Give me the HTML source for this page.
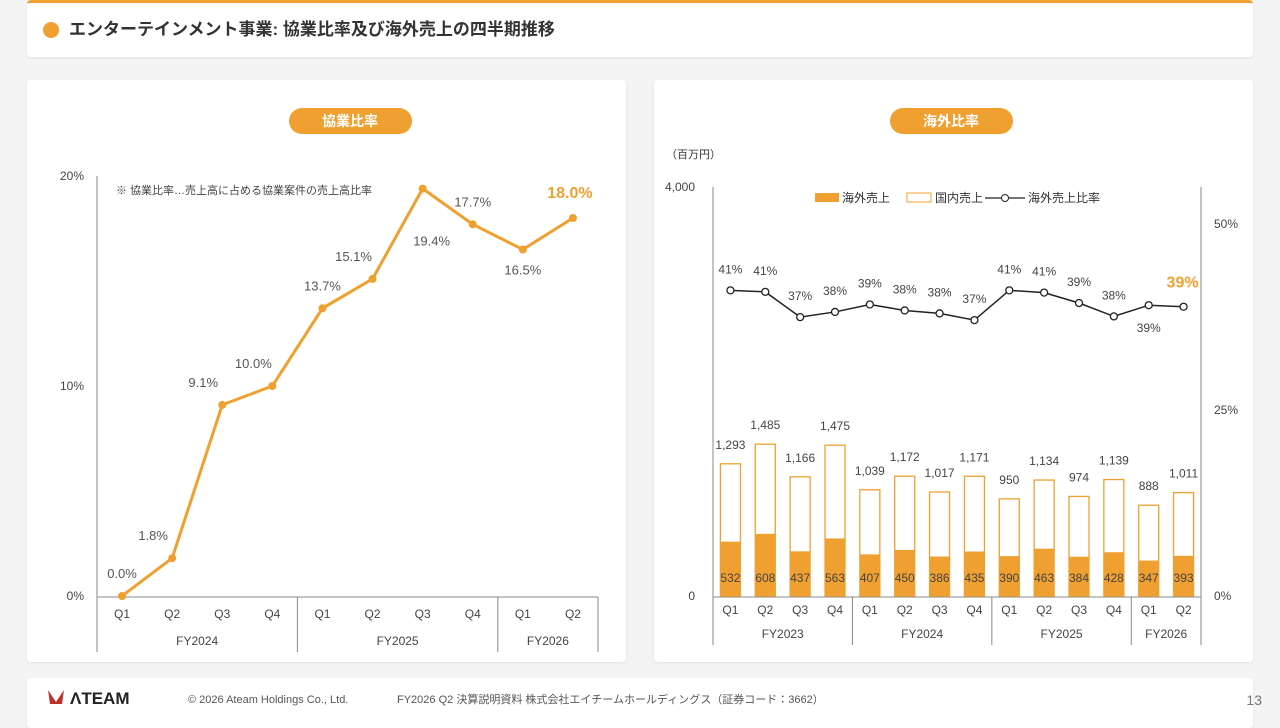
<!DOCTYPE html>
<html><head><meta charset="utf-8">
<style>
body{margin:0;width:1280px;height:720px;background:#f4f4f4;font-family:"Liberation Sans","Noto Sans CJK JP",sans-serif;overflow:hidden;position:relative}
.card{position:absolute;background:#fff;border-radius:4px;box-shadow:0 1px 3px rgba(0,0,0,.08)}
</style></head><body>
<div class="card" style="left:27px;top:0;width:1226px;height:57px;border-top:3px solid #f0a030;box-sizing:border-box"></div>
<div class="card" style="left:27px;top:80px;width:599px;height:582px"></div>
<div class="card" style="left:654px;top:80px;width:599px;height:582px"></div>
<div class="card" style="left:27px;top:678px;width:1226px;height:50px"></div>
<svg id="s" width="1280" height="720" style="position:absolute;left:0;top:0" font-family="Liberation Sans, Noto Sans CJK JP, sans-serif">
<circle cx="51" cy="30" r="8" fill="#f0a030"/>
<text x="69" y="35" font-size="17" font-weight="bold" fill="#333">エンターテインメント事業: 協業比率及び海外売上の四半期推移</text>
<rect x="289" y="108" width="123" height="26" rx="13" fill="#f0a030"/>
<text x="350" y="126" font-size="14" font-weight="bold" fill="#fff" text-anchor="middle">協業比率</text>
<rect x="890" y="108" width="123" height="26" rx="13" fill="#f0a030"/>
<text x="951" y="126" font-size="14" font-weight="bold" fill="#fff" text-anchor="middle">海外比率</text>
<text x="116" y="194" font-size="11" fill="#444">※  協業比率…売上高に占める協業案件の売上高比率</text>
<text x="666" y="158" font-size="11" fill="#333">（百万円）</text>
<g><path d="M48 690 L56 702 L64 690 L62 704 L50 704Z" fill="#c0302a"/><text x="70" y="704" font-size="17" font-weight="bold" fill="#222">ΛTEAM</text></g>
<text x="188" y="703" font-size="11" fill="#555">© 2026 Ateam Holdings Co., Ltd.</text>
<text x="397" y="703" font-size="11" fill="#555">FY2026 Q2 決算説明資料 株式会社エイチームホールディングス（証券コード：3662）</text>
<text x="1262" y="705" font-size="14" fill="#777" text-anchor="end">13</text>
</svg>
<script>
const NS='http://www.w3.org/2000/svg';const s=document.getElementById('s');
function el(t,a,txt){const e=document.createElementNS(NS,t);for(const k in a)e.setAttribute(k,a[k]);if(txt!==undefined)e.textContent=txt;s.appendChild(e);return e;}
// ---- left chart data
const collabQuarters=['Q1','Q2','Q3','Q4','Q1','Q2','Q3','Q4','Q1','Q2'];
const collabYears=['FY2024','FY2025','FY2026'];
const collabYearSpans=[4,4,2];
const collabValues=[0.0,1.8,9.1,10.0,13.7,15.1,19.4,17.7,16.5,18.0];
const collabTicks=[0,10,20];
const collabLabelPos=['a','al','al','al','a','al','bb','a','b','a'];
// ---- right chart data
const ovQuarters=['Q1','Q2','Q3','Q4','Q1','Q2','Q3','Q4','Q1','Q2','Q3','Q4','Q1','Q2'];
const ovYears=['FY2023','FY2024','FY2025','FY2026'];
const ovYearSpans=[4,4,4,2];
const overseas=[532,608,437,563,407,450,386,435,390,463,384,428,347,393];
const totals=[1293,1485,1166,1475,1039,1172,1017,1171,950,1134,974,1139,888,1011];
const ratioVals=[41.1,40.9,37.5,38.2,39.2,38.4,38.0,37.1,41.1,40.8,39.4,37.6,39.1,38.9];
const ratioLabels=['41%','41%','37%','38%','39%','38%','38%','37%','41%','41%','39%','38%','39%','39%'];
const ratioLabelBelow=[0,0,0,0,0,0,0,0,0,0,0,0,1,0];
const leftTicks=[0,4000];const rightTicks=[0,25,50];

const L={x0:97,x1:598,y0:596,y1:176};
const lx=i=>L.x0+(i+0.5)*(L.x1-L.x0)/collabValues.length;
const ly=v=>L.y0-(v/20)*(L.y0-L.y1);
let e;
e=el('line',{x1:L.x0,y1:L.y1,x2:L.x0,y2:652,stroke:'#888'});
e=el('line',{x1:L.x0,y1:597,x2:L.x1,y2:597,stroke:'#888'});
collabTicks.forEach(t=>{e=el('text',{x:84,y:ly(t)+4,'font-size':12,fill:'#444','text-anchor':'end'},t+'%');});
collabQuarters.forEach((q,i)=>{e=el('text',{x:lx(i),y:618,'font-size':12,fill:'#444','text-anchor':'middle'},q);});
let acc=0;const lw=(L.x1-L.x0)/collabValues.length;
collabYears.forEach((y,k)=>{const a=L.x0+acc*lw;acc+=collabYearSpans[k];const b=L.x0+acc*lw;
 e=el('line',{x1:b,y1:597,x2:b,y2:652,stroke:'#888'});
 e=el('text',{x:(a+b)/2,y:645,'font-size':12,fill:'#444','text-anchor':'middle'},y);});
e=el('polyline',{points:collabValues.map((v,i)=>lx(i)+','+ly(v)).join(' '),fill:'none',stroke:'#f0a030','stroke-width':3});
collabValues.forEach((v,i)=>{
 e=el('circle',{cx:lx(i),cy:ly(v),r:4,fill:'#f0a030'});
 const p=collabLabelPos[i];let x=lx(i),y=ly(v)-18;
 if(p==='b')y=ly(v)+25;
 if(p==='al')x-=19;
 if(p==='bb'){x+=9;y=ly(v)+57;}
 const last=i===collabValues.length-1;
 if(last){x-=3;y=ly(v)-20;}
 e=el('text',{x:x,y:y,'font-size':last?16:13,'font-weight':last?'bold':'normal',fill:last?'#f0a030':'#555','text-anchor':'middle'},v.toFixed(1)+'%');
});
// right chart
const R={x0:713,x1:1201,y0:596,y1:187,rmax:55};
const n=ovQuarters.length,rw=(R.x1-R.x0)/n;
const rx=i=>R.x0+(i+0.5)*rw;
const ry=v=>R.y0-(v/4000)*(R.y0-R.y1);
const rr=v=>R.y0-(v/R.rmax)*(R.y0-R.y1);
e=el('line',{x1:R.x0,y1:R.y1,x2:R.x0,y2:645,stroke:'#888'});
e=el('line',{x1:R.x1,y1:R.y1,x2:R.x1,y2:645,stroke:'#888'});
e=el('line',{x1:R.x0,y1:597,x2:R.x1,y2:597,stroke:'#888'});
leftTicks.forEach(t=>{e=el('text',{x:695,y:ry(t)+4,'font-size':12,fill:'#444','text-anchor':'end'},t.toLocaleString('en-US'));});
rightTicks.forEach(t=>{e=el('text',{x:1214,y:rr(t)+4,'font-size':12,fill:'#444'},t+'%');});
ovQuarters.forEach((q,i)=>{e=el('text',{x:rx(i),y:614,'font-size':12,fill:'#444','text-anchor':'middle'},q);});
acc=0;ovYears.forEach((y,k)=>{const a=R.x0+acc*rw;acc+=ovYearSpans[k];const b=R.x0+acc*rw;
 if(k<ovYears.length-1){e=el('line',{x1:b,y1:597,x2:b,y2:645,stroke:'#888'});}
 e=el('text',{x:(a+b)/2,y:638,'font-size':12,fill:'#444','text-anchor':'middle'},y);});
const bw=20;
totals.forEach((t,i)=>{
 e=el('rect',{x:rx(i)-bw/2,y:ry(t),width:bw,height:ry(0)-ry(t),fill:'#fff',stroke:'#f0a030','stroke-width':1.3});
 e=el('rect',{x:rx(i)-bw/2,y:ry(overseas[i]),width:bw,height:ry(0)-ry(overseas[i]),fill:'#f0a030'});
 e=el('text',{x:rx(i),y:ry(t)-15,'font-size':12,fill:'#444','text-anchor':'middle'},t.toLocaleString('en-US'));
 e=el('text',{x:rx(i),y:582,'font-size':12,fill:'#444','text-anchor':'middle'},overseas[i]);
});
e=el('polyline',{points:ratioVals.map((v,i)=>rx(i)+','+rr(v)).join(' '),fill:'none',stroke:'#222','stroke-width':1.5});
const li=ratioVals.length-1;
ratioVals.forEach((v,i)=>{
 e=el('circle',{cx:rx(i),cy:rr(v),r:3.5,fill:'#fff',stroke:'#222','stroke-width':1.3});
 if(i===li)return;
 e=el('text',{x:rx(i),y:ratioLabelBelow[i]?rr(v)+27:rr(v)-17,'font-size':12,fill:'#444','text-anchor':'middle'},ratioLabels[i]);
});
e=el('text',{x:rx(li)-1,y:rr(ratioVals[li])-19,'font-size':16,'font-weight':'bold',fill:'#f0a030','text-anchor':'middle'},ratioLabels[li]);
// legend
e=el('rect',{x:815,y:193,width:24,height:9,fill:'#f0a030'});
e=el('text',{x:842,y:202,'font-size':12,fill:'#333'},'海外売上');
e=el('rect',{x:907,y:193,width:24,height:9,fill:'#fff',stroke:'#f0a030'});
e=el('text',{x:935,y:202,'font-size':12,fill:'#333'},'国内売上');
e=el('line',{x1:985,y1:198,x2:1025,y2:198,stroke:'#222','stroke-width':1.3});
e=el('circle',{cx:1005,cy:198,r:3.5,fill:'#fff',stroke:'#222'});
e=el('text',{x:1028,y:202,'font-size':12,fill:'#333'},'海外売上比率');
</script>
</body></html>
